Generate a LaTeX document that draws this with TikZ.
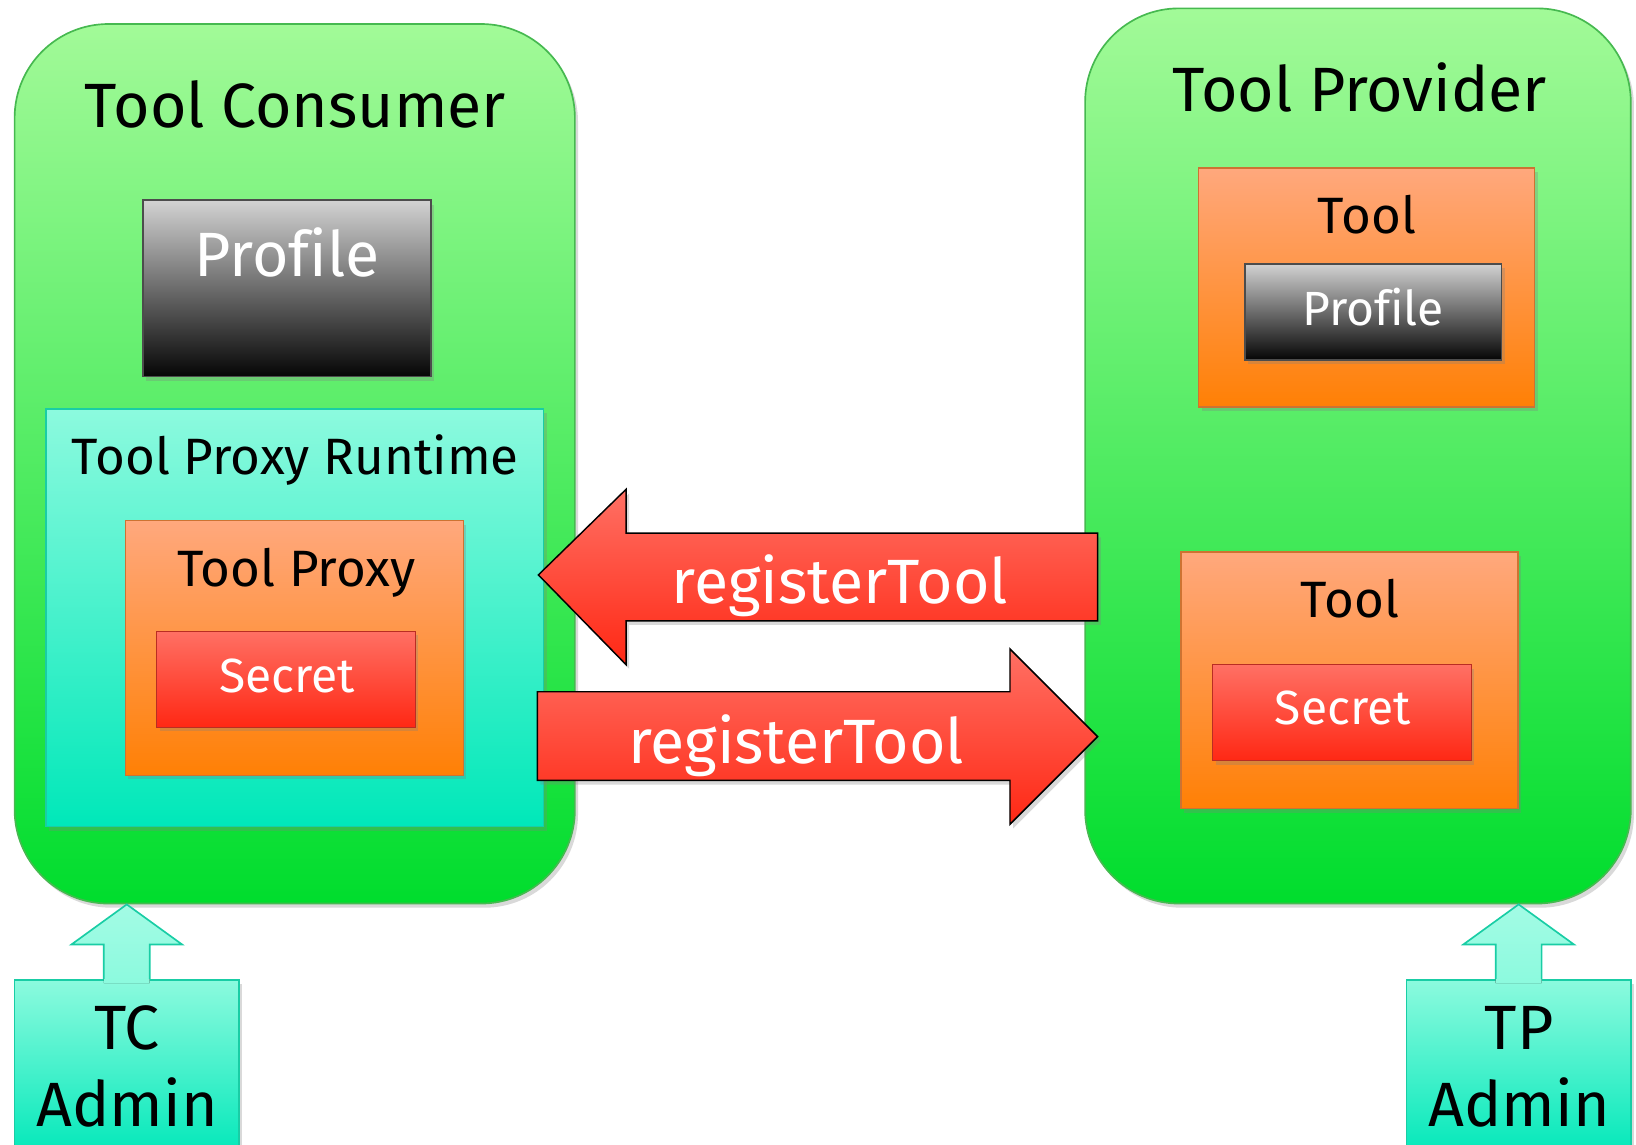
\documentclass[tikz,border=0pt]{standalone}
\usepackage{fontspec}
\setmainfont[Ligatures=NoCommon]{Fira Sans}
\usetikzlibrary{shadows,calc}
\definecolor{gtop}{RGB}{162,250,152}
\definecolor{gbot}{RGB}{0,221,45}
\definecolor{gline}{RGB}{70,185,80}
\definecolor{ctop}{RGB}{140,250,222}
\definecolor{cbot}{RGB}{0,232,185}
\definecolor{cline}{RGB}{25,205,165}
\definecolor{otop}{RGB}{255,168,125}
\definecolor{obot}{RGB}{255,128,5}
\definecolor{oline}{RGB}{205,115,50}
\definecolor{rtop}{RGB}{255,112,100}
\definecolor{rbot}{RGB}{255,40,20}
\definecolor{rline}{RGB}{185,45,35}
\definecolor{ktop}{RGB}{210,210,210}
\definecolor{kbot}{RGB}{5,5,5}
\tikzset{
  shd/.style={drop shadow={shadow xshift=1.5pt,shadow yshift=-2pt,opacity=0.3}},
  grp/.style={draw=gline,line width=0.8pt,rounded corners=45pt,top color=gtop,bottom color=gbot,inner sep=0pt,shd},
  cyanbox/.style={draw=cline,line width=0.8pt,top color=ctop,bottom color=cbot,inner sep=0pt,shd},
  orbox/.style={draw=oline,line width=0.6pt,top color=otop,bottom color=obot,inner sep=0pt,shd},
  redbox/.style={draw=rline,line width=0.6pt,top color=rtop,bottom color=rbot,inner sep=0pt,shd},
  darkbox/.style={draw=black!70,line width=0.8pt,top color=ktop,bottom color=kbot,inner sep=0pt,shd},
  bigtxt/.style={anchor=base,font=\fontsize{30}{36}\selectfont,inner sep=0pt},
  midtxt/.style={anchor=base,font=\fontsize{24.5}{29}\selectfont,inner sep=0pt},
  smalltxt/.style={anchor=base,font=\fontsize{23}{28}\selectfont,inner sep=0pt},
  regarrow/.style={draw=black,line width=0.7pt,top color=rtop,bottom color=rbot,line join=miter,shd},
  upfill/.style={top color=ctop!80!white,bottom color=ctop},
  upline/.style={draw=cline,line width=0.8pt,line join=miter}
}
\begin{document}
\begin{tikzpicture}[x=0.5pt,y=-0.5pt]
\useasboundingbox (0,0) rectangle (1568,1097);
% Tool Consumer
\node[grp,minimum width=268.5pt,minimum height=421.5pt] (tc) at (282.5,444.5) {};
\node[bigtxt] (tctitle) at (283,122) {Tool Consumer};
\node[darkbox,minimum width=138pt,minimum height=84.5pt] (prof1) at (275,276.5) {};
\node[bigtxt,text=white] (prof1t) at (275,265) {Profile};
\node[cyanbox,minimum width=238.5pt,minimum height=200pt] (rt) at (282.5,592) {};
\node[midtxt] (rtt) at (283,455) {Tool Proxy Runtime};
\node[orbox,minimum width=162pt,minimum height=122pt] (proxy) at (282,621) {};
\node[midtxt] (proxyt) at (284,562) {Tool Proxy};
\node[redbox,minimum width=124pt,minimum height=46pt] (sec1) at (274,651) {};
\node[smalltxt,text=white] (sec1t) at (275,664) {Secret};
% Tool Provider
\node[grp,minimum width=261.5pt,minimum height=429pt] (tp) at (1301.5,437) {};
\node[bigtxt] (tptitle) at (1303,107) {Tool Provider};
\node[orbox,minimum width=161pt,minimum height=114.5pt] (tool1) at (1310,275.5) {};
\node[midtxt] (tool1t) at (1310,224) {Tool};
\node[darkbox,minimum width=123pt,minimum height=46pt] (prof2) at (1316,299) {};
\node[smalltxt,text=white] (prof2t) at (1316,312) {Profile};
\node[orbox,minimum width=161.5pt,minimum height=123pt] (tool2) at (1293.5,652) {};
\node[midtxt] (tool2t) at (1294,592) {Tool};
\node[redbox,minimum width=124pt,minimum height=46pt] (sec2) at (1286,683) {};
\node[smalltxt,text=white] (sec2t) at (1287,694) {Secret};
% registerTool arrows
\coordinate (la) at (516,551);
\shade[regarrow] (la) -- (600,469) -- (600,511) -- (1052,511) -- (1052,595) -- (600,595) -- (600,637) -- cycle;
\node[bigtxt,text=white] (reg1) at (805,578) {registerTool};
\coordinate (ra) at (1052,706);
\shade[regarrow] (ra) -- (968,622) -- (968,663) -- (515,663) -- (515,748) -- (968,748) -- (968,790) -- cycle;
\node[bigtxt,text=white] (reg2) at (763,732) {registerTool};
% Admin boxes
\node[cyanbox,minimum width=107.5pt,minimum height=85.5pt] (tca) at (121.5,1024.5) {};
\node[cyanbox,minimum width=107.5pt,minimum height=85.5pt] (tpa) at (1455.5,1024.5) {};
\node[bigtxt] (tca1) at (122,1006) {TC};
\node[bigtxt] (tca2) at (122,1080) {Admin};
\node[bigtxt] (tpa1) at (1456,1006) {TP};
\node[bigtxt] (tpa2) at (1456,1080) {Admin};
% up arrows
\foreach \a/\b in {tca/tc,tpa/tp}{
  \coordinate (tip\a) at (\a.north |- \b.south);
  \fill[upfill] (tip\a) -- ($(\a.north)+(53,-33)$) -- ($(\a.north)+(22,-33)$) -- ($(\a.north)+(22,4)$) -- ($(\a.north)+(-22,4)$) -- ($(\a.north)+(-22,-33)$) -- ($(\a.north)+(-53,-33)$) -- cycle;
  \draw[upline] ($(\a.north)+(22,0)$) -- ($(\a.north)+(22,-33)$) -- ($(\a.north)+(53,-33)$) -- (tip\a) -- ($(\a.north)+(-53,-33)$) -- ($(\a.north)+(-22,-33)$) -- ($(\a.north)+(-22,0)$);
}
\end{tikzpicture}
\end{document}
